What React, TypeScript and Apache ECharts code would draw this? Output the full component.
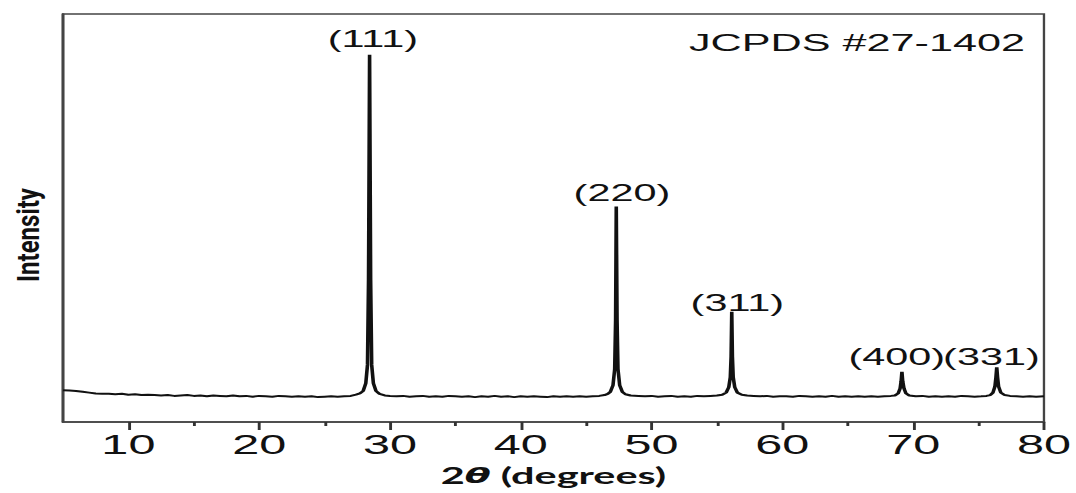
import React, { useEffect, useRef } from "react";
import * as echarts from "echarts";

// ---- data (2θ in degrees, intensity in arbitrary units 0-100) ----
const xrdPattern: [number, number][] = [
  [5.0, 7.8], [5.5, 7.7], [6.0, 7.6], [6.5, 7.4], [7.0, 7.2], [7.5, 7.0], [8.0, 6.9], [8.5, 6.9],
  [9.0, 6.8], [9.5, 6.9], [10.0, 6.7], [10.5, 6.8], [11.0, 6.6], [11.5, 6.7], [12.0, 6.6], [12.5, 6.5],
  [13.0, 6.6], [13.5, 6.4], [14.0, 6.5], [14.5, 6.6], [15.0, 6.4], [15.5, 6.5], [16.0, 6.3], [16.5, 6.5],
  [17.0, 6.4], [17.5, 6.3], [18.0, 6.5], [18.5, 6.3], [19.0, 6.4], [19.5, 6.2], [20.0, 6.4], [20.5, 6.3],
  [21.0, 6.2], [21.5, 6.4], [22.0, 6.3], [22.5, 6.2], [23.0, 6.3], [23.5, 6.2], [24.0, 6.3], [24.5, 6.1],
  [25.0, 6.2], [25.5, 6.3], [26.0, 6.2], [26.5, 6.3], [27.0, 6.4], [27.4, 6.7], [27.7, 7.0],
  // (111)
  [27.95, 7.6], [28.15, 9.5], [28.28, 14], [28.36, 35], [28.44, 90], [28.52, 35], [28.6, 14],
  [28.73, 9.5], [28.93, 7.6], [29.2, 6.9], [29.6, 6.5],
  [30.0, 6.4], [30.5, 6.3], [31.0, 6.4], [31.5, 6.2], [32.0, 6.3], [32.5, 6.4], [33.0, 6.2], [33.5, 6.3],
  [34.0, 6.2], [34.5, 6.4], [35.0, 6.3], [35.5, 6.2], [36.0, 6.3], [36.5, 6.1], [37.0, 6.3], [37.5, 6.2],
  [38.0, 6.4], [38.5, 6.2], [39.0, 6.3], [39.5, 6.1], [40.0, 6.3], [40.5, 6.2], [41.0, 6.3], [41.5, 6.2],
  [42.0, 6.1], [42.5, 6.3], [43.0, 6.2], [43.5, 6.3], [44.0, 6.2], [44.5, 6.3], [45.0, 6.2], [45.5, 6.3],
  [46.0, 6.4], [46.4, 6.6],
  // (220)
  [46.65, 6.9], [46.85, 7.4], [47.05, 9.0], [47.18, 13], [47.25, 25], [47.3, 52.8], [47.36, 25],
  [47.43, 13], [47.56, 9.0], [47.76, 7.4], [48.0, 6.8], [48.4, 6.5],
  [49.0, 6.4], [49.5, 6.3], [50.0, 6.4], [50.5, 6.2], [51.0, 6.3], [51.5, 6.4], [52.0, 6.2], [52.5, 6.3],
  [53.0, 6.2], [53.5, 6.4], [54.0, 6.3], [54.5, 6.4], [55.0, 6.5], [55.4, 6.7],
  // (311)
  [55.7, 7.2], [55.9, 8.5], [56.02, 11], [56.08, 16], [56.13, 27], [56.18, 16], [56.24, 11],
  [56.36, 8.5], [56.56, 7.2], [56.9, 6.7],
  [57.3, 6.5], [57.8, 6.4], [58.3, 6.3], [58.8, 6.4], [59.3, 6.2], [59.8, 6.3], [60.3, 6.3], [60.8, 6.2],
  [61.3, 6.4], [61.8, 6.3], [62.3, 6.2], [62.8, 6.3], [63.3, 6.2], [63.8, 6.4], [64.3, 6.2], [64.8, 6.3],
  [65.3, 6.2], [65.8, 6.3], [66.3, 6.2], [66.8, 6.3], [67.3, 6.2], [67.8, 6.3], [68.3, 6.4], [68.6, 6.5],
  // (400)
  [68.85, 7.0], [69.0, 8.2], [69.08, 10], [69.14, 12.3], [69.2, 10], [69.3, 8.2], [69.45, 7.0], [69.7, 6.5],
  [70.2, 6.3], [70.7, 6.4], [71.2, 6.2], [71.7, 6.3], [72.2, 6.2], [72.7, 6.3], [73.2, 6.2], [73.7, 6.4],
  [74.2, 6.3], [74.7, 6.2], [75.2, 6.3], [75.6, 6.4], [75.9, 6.6],
  // (331)
  [76.1, 7.2], [76.25, 8.7], [76.33, 11], [76.39, 13.4], [76.45, 11], [76.53, 8.7], [76.7, 7.2], [77.0, 6.6],
  [77.4, 6.4], [77.9, 6.3], [78.4, 6.2], [78.9, 6.3], [79.4, 6.2], [80.0, 6.3],
];

const peakLabels = ["(111)", "(220)", "(311)", "(400)", "(331)"];
const peakLabelX = [28.69, 47.73, 56.56, 68.75, 75.98];
const peakLabelY = [93.9, 56.1, 29.2, 15.9, 15.9];

const majorTicks = [10, 20, 30, 40, 50, 60, 70, 80];
const minorTicks = [15, 25, 35, 45, 55, 65, 75];

const S = 1.8; // horizontal stretch of the original figure
const W = 1076;
const H = 493;

export default function App() {
  const ref = useRef<HTMLDivElement>(null);

  useEffect(() => {
    if (!ref.current) return;
    const chart = echarts.init(ref.current, null, { renderer: "svg" });
    const axisColor = "#444";
    chart.setOption({
      animation: false,
      grid: {
        left: 63 / S,
        right: (W - 1048) / S,
        top: 14,
        bottom: H - 422,
        show: true,
        borderColor: axisColor,
        borderWidth: 1.3,
      },
      xAxis: [
        {
          type: "value",
          min: 5,
          max: 80,
          axisLine: { show: true, lineStyle: { color: axisColor, width: 1.6 } },
          axisTick: {
            show: true,
            customValues: majorTicks,
            length: 8,
            lineStyle: { color: "#333", width: 1.6 },
          },
          axisLabel: {
            customValues: majorTicks,
            margin: 9,
            fontSize: 27,
            fontFamily: "Liberation Sans",
            color: "#111",
          },
          splitLine: { show: false },
          name: "{a|2}{b|θ}{a| (degrees)}",
          nameLocation: "middle",
          nameGap: 42,
          nameTextStyle: {
            rich: {
              a: { fontFamily: "Lato", fontWeight: "bold", fontSize: 23, color: "#111" },
              b: {
                fontFamily: "DejaVu Sans",
                fontStyle: "italic",
                fontWeight: "bold",
                fontSize: 21,
                color: "#111",
              },
            },
          },
        },
        {
          type: "value",
          gridIndex: 0,
          position: "bottom",
          min: 5,
          max: 80,
          axisLine: { show: false },
          axisTick: {
            show: true,
            customValues: minorTicks,
            length: 4,
            lineStyle: { color: "#333", width: 1.6 },
          },
          axisLabel: { show: false },
          splitLine: { show: false },
        },
      ],
      yAxis: {
        type: "value",
        min: 0,
        max: 100,
        axisLine: { show: true, lineStyle: { color: axisColor, width: 1.6 } },
        axisTick: { show: false },
        axisLabel: { show: false },
        splitLine: { show: false },
      },
      series: [
        {
          type: "line",
          data: xrdPattern,
          symbol: "none",
          showSymbol: false,
          lineStyle: { color: "#111", width: 2 },
          markPoint: {
            symbol: "circle",
            symbolSize: 1,
            itemStyle: { color: "rgba(0,0,0,0)" },
            label: {
              show: true,
              position: "inside",
              formatter: "{b}",
              fontSize: 23,
              fontFamily: "Liberation Sans",
              color: "#111",
            },
            data: peakLabels.map((name, i) => ({
              name,
              coord: [peakLabelX[i], peakLabelY[i]],
            })),
          },
        },
      ],
      graphic: [
        {
          type: "text",
          x: 857 / S,
          y: 42,
          style: {
            text: "JCPDS #27-1402",
            fontSize: 24,
            fontFamily: "Liberation Sans",
            fill: "#111",
            align: "center",
            verticalAlign: "middle",
          },
        },
        {
          type: "text",
          x: 28 / S,
          y: 235,
          rotation: Math.PI / 2,
          scaleY: 1.3 / S,
          style: {
            text: "Intensity",
            fontSize: 24,
            fontFamily: "Roboto",
            fontWeight: "bold",
            fill: "#111",
            align: "center",
            verticalAlign: "middle",
          },
        },
      ],
    });
    return () => chart.dispose();
  }, []);

  return (
    <div
      style={{
        position: "fixed",
        left: 0,
        top: 0,
        width: W,
        height: H,
        overflow: "hidden",
        background: "#fff",
      }}
    >
      <div
        ref={ref}
        style={{
          width: W / S,
          height: H,
          transform: `scaleX(${S})`,
          transformOrigin: "0 0",
        }}
      />
    </div>
  );
}
